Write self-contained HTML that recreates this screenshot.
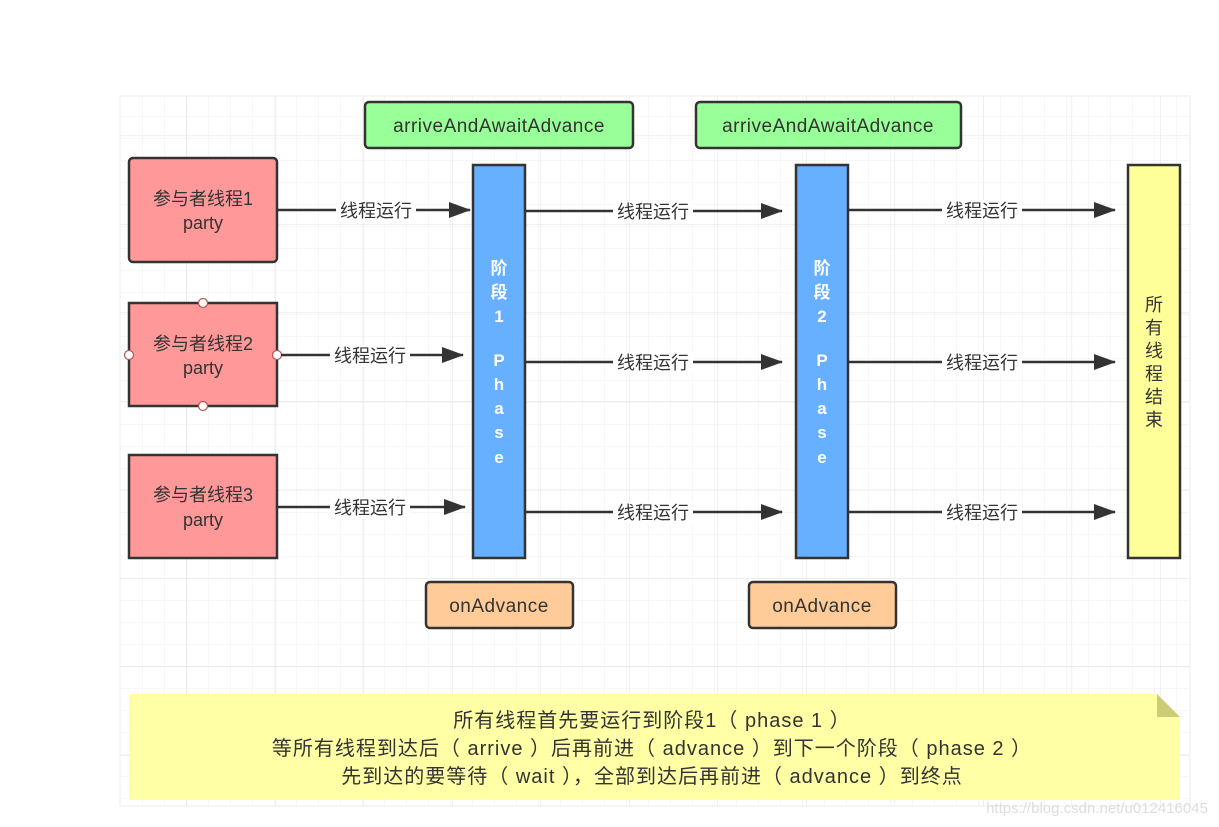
<!DOCTYPE html>
<html><head><meta charset="utf-8"><style>
body{margin:0;background:#fff;}
svg{display:block;}
text{font-family:"Liberation Sans","Noto Sans CJK SC",sans-serif;}
</style></head><body>
<svg width="1219" height="827" xmlns="http://www.w3.org/2000/svg">
<defs>
<pattern id="g" x="120" y="94" width="22" height="22" patternUnits="userSpaceOnUse"><path d="M0 0H22M0 0V22" stroke="#efefef" stroke-width="1" fill="none"/></pattern>
<pattern id="G" x="98" y="47" width="88.5" height="88.5" patternUnits="userSpaceOnUse"><path d="M0 0H88.5M0 0V88.5" stroke="#e4e4e4" stroke-width="1.2" fill="none"/></pattern>
<marker id="a" markerWidth="22" markerHeight="16" refX="21" refY="8" orient="auto" markerUnits="userSpaceOnUse"><path d="M0 0L22 8L0 16Z" fill="#333"/></marker>
</defs>
<rect x="120" y="96" width="1070" height="710" fill="url(#g)"/>
<rect x="120" y="96" width="1070" height="710" fill="url(#G)"/>
<rect x="120" y="96" width="1070" height="710" fill="none" stroke="#eee"/>

<g stroke="#333" stroke-width="2.5">
<rect x="129" y="158" width="148" height="104" rx="4" fill="#ff9999"/>
<rect x="129" y="303" width="148" height="103" fill="#ff9999"/>
<rect x="129" y="455" width="148" height="103" fill="#ff9999"/>
<rect x="365" y="102" width="268" height="46" rx="4" fill="#99ff99"/>
<rect x="696" y="102" width="265" height="46" rx="4" fill="#99ff99"/>
<rect x="473" y="165" width="52" height="393" fill="#66b0ff"/>
<rect x="796" y="165" width="52" height="393" fill="#66b0ff"/>
<rect x="1128" y="165" width="52" height="393" fill="#ffff99"/>
<rect x="426" y="582" width="147" height="46" rx="4" fill="#ffcc99"/>
<rect x="749" y="582" width="147" height="46" rx="4" fill="#ffcc99"/>
</g>
<g fill="#fff" stroke="#b85450" stroke-width="1.2">
<circle cx="203" cy="303" r="4.5"/><circle cx="203" cy="406" r="4.5"/><circle cx="129" cy="355" r="4.5"/><circle cx="277" cy="355" r="4.5"/>
</g>
<path d="M129 694H1157L1180 717V800H129Z" fill="#ffffa6"/>
<path d="M1157 694L1180 717H1157Z" fill="#cccc77"/>

<g stroke="#333" stroke-width="2.5" marker-end="url(#a)">
<line x1="277" y1="210" x2="470" y2="210"/>
<line x1="525" y1="211" x2="782" y2="211"/>
<line x1="848" y1="210" x2="1115" y2="210"/>
<line x1="281" y1="355" x2="463" y2="355"/>
<line x1="525" y1="362" x2="782" y2="362"/>
<line x1="848" y1="362" x2="1115" y2="362"/>
<line x1="277" y1="507" x2="465" y2="507"/>
<line x1="525" y1="512" x2="782" y2="512"/>
<line x1="848" y1="512" x2="1115" y2="512"/>
</g>
<g font-size="18" fill="#333" text-anchor="middle">
<g fill="#fff"><rect x="336" y="200" width="80" height="22"/><rect x="330" y="345" width="80" height="22"/><rect x="330" y="497" width="80" height="22"/>
<rect x="613" y="201" width="80" height="22"/><rect x="613" y="352" width="80" height="22"/><rect x="613" y="502" width="80" height="22"/>
<rect x="942" y="200" width="80" height="22"/><rect x="942" y="352" width="80" height="22"/><rect x="942" y="502" width="80" height="22"/></g>
<text x="376" y="217">线程运行</text><text x="370" y="362">线程运行</text><text x="370" y="514">线程运行</text>
<text x="653" y="218">线程运行</text><text x="653" y="369">线程运行</text><text x="653" y="519">线程运行</text>
<text x="982" y="217">线程运行</text><text x="982" y="369">线程运行</text><text x="982" y="519">线程运行</text>
<text x="203" y="205">参与者线程1</text><text x="203" y="229">party</text>
<text x="203" y="350">参与者线程2</text><text x="203" y="374">party</text>
<text x="203" y="501">参与者线程3</text><text x="203" y="526">party</text>
<text x="499" y="132" font-size="19" letter-spacing="0.5">arriveAndAwaitAdvance</text>
<text x="828" y="132" font-size="19" letter-spacing="0.5">arriveAndAwaitAdvance</text>
<text x="499" y="612" font-size="19" letter-spacing="0.5">onAdvance</text>
<text x="822" y="612" font-size="19" letter-spacing="0.5">onAdvance</text>
<g font-size="18"><text x="1154" y="311">所</text><text x="1154" y="334">有</text><text x="1154" y="357">线</text><text x="1154" y="380">程</text><text x="1154" y="403">结</text><text x="1154" y="426">束</text></g>
<g fill="#fff" font-weight="bold" font-size="17">
<text x="499" y="274">阶</text><text x="499" y="298">段</text><text x="499" y="322">1</text><text x="499" y="366">P</text><text x="499" y="390">h</text><text x="499" y="414">a</text><text x="499" y="438">s</text><text x="499" y="463">e</text>
<text x="822" y="274">阶</text><text x="822" y="298">段</text><text x="822" y="322">2</text><text x="822" y="366">P</text><text x="822" y="390">h</text><text x="822" y="414">a</text><text x="822" y="438">s</text><text x="822" y="463">e</text>
</g>
<g font-size="20" letter-spacing="1"><text x="652" y="727">所有线程首先要运行到阶段1（ phase 1 ）</text>
<text x="652" y="755">等所有线程到达后（ arrive ）后再前进（ advance ）到下一个阶段（ phase 2 ）</text>
<text x="652" y="783">先到达的要等待（ wait ），全部到达后再前进（ advance ）到终点</text></g>
<text x="1097" y="813" font-size="15" fill="#ddd">https://blog.csdn.net/u012416045</text>
</g>
</svg>
</body></html>
